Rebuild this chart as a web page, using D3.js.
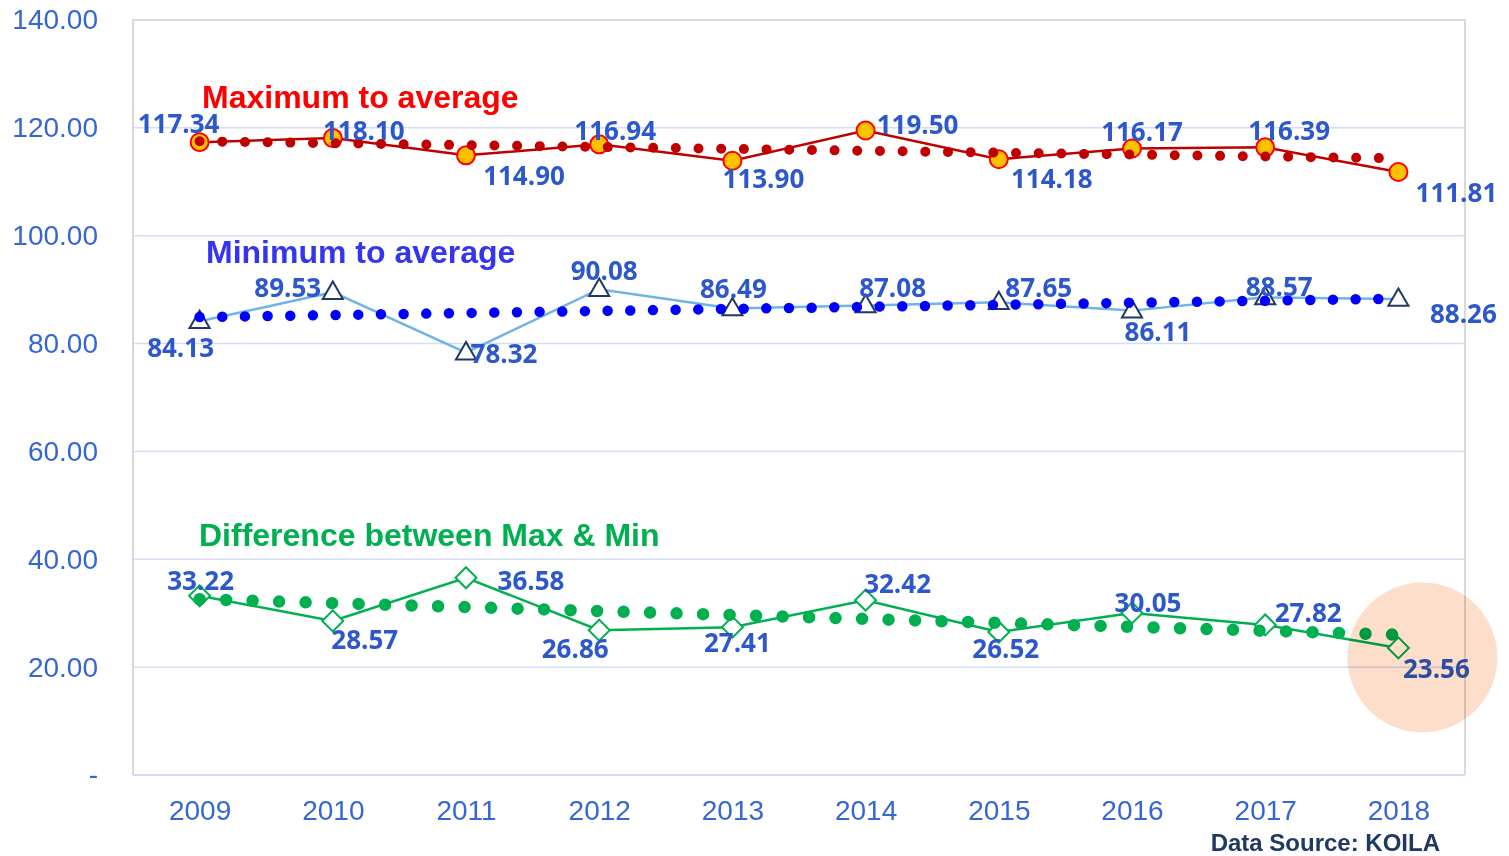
<!DOCTYPE html>
<html lang="en">
<head>
    <meta charset="UTF-8">
    <title>Maximum / Minimum to average</title>
    <script src="https://d3js.org/d3.v7.min.js"></script>
    <style>
        body { margin: 0; background: #fff; }
        svg { display: block; }
        .tick text { font-family: "Liberation Sans", Arial, sans-serif; font-size: 28px; fill: #3566d6; }
        .dlabel { font-family: "Open Sans", sans-serif; font-weight: 700; font-size: 26px; fill: #2d58cc; text-anchor: middle; }
        .title { font-family: "Liberation Sans", Arial, sans-serif; font-weight: bold; font-size: 32px; }
    </style>
</head>
<body>
<div id="chart"></div>
<script>
    // data
    const years = [2009, 2010, 2011, 2012, 2013, 2014, 2015, 2016, 2017, 2018];
    const maxToAvg = [117.34, 118.10, 114.90, 116.94, 113.90, 119.50, 114.18, 116.17, 116.39, 111.81];
    const minToAvg = [84.13, 89.53, 78.32, 90.08, 86.49, 87.08, 87.65, 86.11, 88.57, 88.26];
    const diffMaxMin = [33.22, 28.57, 36.58, 26.86, 27.41, 32.42, 26.52, 30.05, 27.82, 23.56];
    const yTicks = [0, 20, 40, 60, 80, 100, 120, 140];

    // label nudges (px) from each point, as placed in the original
    const maxShift = [[-21,-9],[31,2],[58,30],[16,-4],[31,27],[52,3],[53,29],[10,-8],[24,-7],[58,30]];
    const minShift = [[-19,36],[-45,5],[38,10],[5,-9],[1,-11],[27,-8],[40,-5],[26,30],[14,-1],[65,24]];
    const diffShift = [[1,-6],[32,28],[65,12],[-24,28],[5,25],[32,-7],[7,26],[16,-1],[43,-3],[38,30]];

    const W = 1509, H = 856;
    const plot = { left: 133, right: 1465, top: 20, bottom: 775 };

    const svg = d3.select("#chart").append("svg")
        .attr("width", W)
        .attr("height", H);

    const x = d3.scalePoint().domain(years).range([plot.left, plot.right]).padding(0.5);
    const y = d3.scaleLinear().domain([0, 140]).range([plot.bottom, plot.top]);

    // gridlines
    svg.append("g")
        .selectAll("line")
        .data(yTicks.filter(d => d > 0 && d < 140))
        .enter().append("line")
        .attr("x1", plot.left).attr("x2", plot.right)
        .attr("y1", d => y(d)).attr("y2", d => y(d))
        .attr("stroke", "#d3ddf6")
        .attr("stroke-width", 1.5);

    // plot frame: gray on top/left/right, light blue at the bottom
    svg.append("path")
        .attr("d", `M${plot.left},${plot.bottom}V${plot.top}H${plot.right}V${plot.bottom}`)
        .attr("fill", "none")
        .attr("stroke", "#d9d9d9")
        .attr("stroke-width", 2);
    svg.append("line")
        .attr("x1", plot.left).attr("x2", plot.right)
        .attr("y1", plot.bottom).attr("y2", plot.bottom)
        .attr("stroke", "#d3ddf6")
        .attr("stroke-width", 2);

    // axes
    const yAxis = svg.append("g")
        .attr("transform", `translate(${plot.left},0)`)
        .call(d3.axisLeft(y).tickValues(yTicks).tickSize(0).tickPadding(35)
            .tickFormat(d => d === 0 ? "-" : d.toFixed(2)));
    yAxis.select(".domain").remove();

    const xAxis = svg.append("g")
        .attr("transform", `translate(0,${plot.bottom})`)
        .call(d3.axisBottom(x).tickSize(0).tickPadding(25));
    xAxis.select(".domain").remove();

    const line = d3.line()
        .x((d, i) => x(years[i]))
        .y(d => y(d));

    // linear trend through a series, drawn from first to last year
    function trendEnds(vals) {
        const n = vals.length;
        const xm = (n - 1) / 2;
        const ym = d3.mean(vals);
        let sxy = 0, sxx = 0;
        vals.forEach((v, i) => { sxy += (i - xm) * (v - ym); sxx += (i - xm) * (i - xm); });
        const m = sxy / sxx;
        return [[years[0], ym - m * xm], [years[n - 1], ym + m * xm]];
    }

    function drawSeries(vals, opt) {
        const g = svg.append("g");
        g.append("path")
            .datum(vals)
            .attr("d", line)
            .attr("fill", "none")
            .attr("stroke", opt.lineColor)
            .attr("stroke-width", 2.5);

        g.selectAll(".marker")
            .data(vals)
            .enter().append("path")
            .attr("class", "marker")
            .attr("d", d3.symbol().type(opt.symbol).size(opt.size))
            .attr("transform", (d, i) => `translate(${x(years[i])},${y(d) + (opt.dy || 0)}) rotate(${opt.rotate || 0})`)
            .attr("fill", opt.markerFill)
            .attr("stroke", opt.markerStroke)
            .attr("stroke-width", 2);

        g.append("path")
            .datum(trendEnds(vals))
            .attr("d", d3.line().x(d => x(d[0])).y(d => y(d[1])))
            .attr("fill", "none")
            .attr("stroke", opt.trendColor)
            .attr("stroke-width", opt.dotSize)
            .attr("stroke-linecap", "round")
            .attr("stroke-dasharray", `0 ${opt.dotGap}`);
    }

    drawSeries(maxToAvg, {
        lineColor: "#c00000", symbol: d3.symbolCircle, size: Math.PI * 81,
        markerFill: "#ffc000", markerStroke: "#ff0000",
        trendColor: "#c00000", dotSize: 10, dotGap: 22.68
    });
    drawSeries(minToAvg, {
        lineColor: "#6fb4e4", symbol: d3.symbolTriangle, size: 175, dy: 1,
        markerFill: "#ffffff", markerStroke: "#1f3864",
        trendColor: "#0000ff", dotSize: 10.5, dotGap: 22.67
    });
    drawSeries(diffMaxMin, {
        lineColor: "#00b050", symbol: d3.symbolSquare, size: 220, rotate: 45,
        markerFill: "#ffffff", markerStroke: "#00b050",
        trendColor: "#00b050", dotSize: 12.5, dotGap: 26.51
    });

    // data labels
    function drawLabels(vals, shift) {
        svg.append("g")
            .selectAll("text")
            .data(vals)
            .enter().append("text")
            .attr("class", "dlabel")
            .attr("x", (d, i) => x(years[i]) + shift[i][0])
            .attr("y", (d, i) => y(d) + shift[i][1])
            .text(d => d.toFixed(2));
    }
    drawLabels(maxToAvg, maxShift);
    drawLabels(minToAvg, minShift);
    drawLabels(diffMaxMin, diffShift);

    // series titles
    const titles = [
        { text: "Maximum to average", x: 202, y: 108, color: "#ff0000" },
        { text: "Minimum to average", x: 206, y: 263, color: "#3535f0" },
        { text: "Difference between Max & Min", x: 199, y: 546, color: "#00b050" }
    ];
    svg.append("g")
        .selectAll("text")
        .data(titles)
        .enter().append("text")
        .attr("class", "title")
        .attr("x", d => d.x)
        .attr("y", d => d.y)
        .attr("fill", d => d.color)
        .text(d => d.text);

    // highlight on the last difference value
    svg.append("circle")
        .attr("cx", x(2018) + 24)
        .attr("cy", y(21.8))
        .attr("r", 75)
        .attr("fill", "#fcdeca")
        .style("mix-blend-mode", "multiply");

    svg.append("text")
        .attr("x", 1440)
        .attr("y", 851)
        .attr("text-anchor", "end")
        .attr("font-family", "Liberation Sans, Arial, sans-serif")
        .attr("font-weight", "bold")
        .attr("font-size", 24)
        .attr("fill", "#1f3864")
        .text("Data Source: KOILA");
</script>
</body>
</html>
